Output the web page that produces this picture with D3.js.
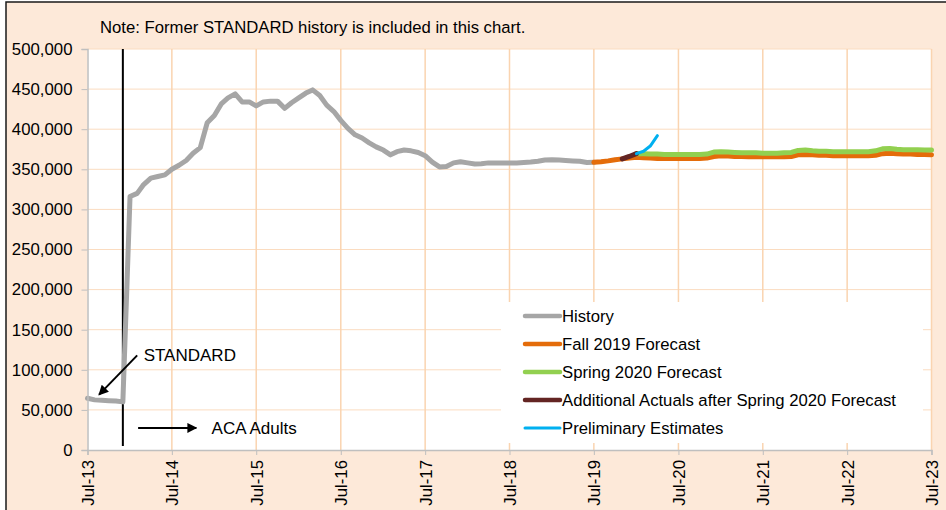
<!DOCTYPE html>
<html>
<head>
<meta charset="utf-8">
<script src="https://cdn.jsdelivr.net/npm/d3@7"></script>
<style>
  body { margin: 0; background: #fff; }
  svg text { font-family: "Liberation Sans", Arial, sans-serif; fill: #000; }
</style>
</head>
<body>
<div id="chart"></div>
<script>
// monthly values, thousands of people
const historyStart = new Date(2013, 6, 1); // Jul-13
const historyValues = [
  64.5, 62.5, 62, 61.5, 61, 60,
  316, 320, 331, 339, 341, 343,
  350, 355, 361, 370, 377, 408, 417, 432, 439, 444, 434, 434,
  429, 434, 435, 435, 426, 433, 439, 445, 449, 442, 430, 422,
  411, 401, 393, 389, 383, 378, 374, 368, 372, 374, 373, 371,
  367, 359, 353, 353.5, 358, 359.5, 358, 356.5, 357, 358, 358, 358,
  358, 358, 358.5, 359, 360, 361.5, 362, 361.5, 361, 360.5, 360, 358.5,
  358.7
];

const fallStart = new Date(2019, 6, 1); // Jul-19
const fallValues = [
  358.7, 359.5, 360.5, 362, 363, 364,
  365, 364.5, 364, 363.5, 363.5, 363.5,
  363.5, 363.5, 363.5, 363.5, 364, 366, 367, 366.5, 366, 366, 365.5, 365.5,
  365.5, 365.5, 365.5, 365.5, 366, 368, 368.5, 368, 367.5, 367.5, 367, 367,
  367, 367, 367, 367, 367.5, 369.5, 370, 369.5, 369, 369, 368.5, 368.5,
  368
];

const springStart = new Date(2020, 0, 1); // Jan-20
const springValues = [
  369.5, 369.5, 369, 369, 368.5, 368.5,
  368.5, 368.5, 368.5, 368.5, 369, 371.5, 372, 371.5, 371, 370.5, 370.5, 370.5,
  370, 370, 370, 370.5, 371, 373.5, 374, 373, 372.5, 372.5, 372, 372,
  372, 372, 372, 372, 373, 375.5, 376, 375, 374.5, 374.5, 374.5, 374,
  374
];

const actualsStart = new Date(2019, 10, 1); // Nov-19
const actualsValues = [363, 366, 369.5];

const prelimStart = new Date(2020, 0, 1); // Jan-20
const prelimValues = [369.5, 372.5, 379, 392];

const seriesNames = ["History", "Fall 2019 Forecast", "Spring 2020 Forecast",
  "Additional Actuals after Spring 2020 Forecast", "Preliminary Estimates"];
const seriesColors = ["#a6a6a6", "#e46c0a", "#92d050", "#632523", "#00b0f0"];
const seriesWidths = [5, 5, 5, 5, 3];

const yTicks = [0, 50000, 100000, 150000, 200000, 250000, 300000, 350000, 400000, 450000, 500000];
const xTickYears = [2013, 2014, 2015, 2016, 2017, 2018, 2019, 2020, 2021, 2022, 2023];

const noteText = "Note: Former STANDARD history is included in this chart.";
const dividerDate = new Date(2013, 11, 1);

const width = 946, height = 510;
const margin = { top: 49, right: 14.5, bottom: 60, left: 87.5 };

const svg = d3.select("#chart").append("svg")
  .attr("width", width)
  .attr("height", height);

// outer frame of the chart
svg.append("rect")
  .attr("x", 6).attr("y", 2)
  .attr("width", width).attr("height", height)
  .attr("fill", "#fde9d9")
  .attr("stroke", "#1a1a1a")
  .attr("stroke-width", 1.5);

const x = d3.scaleTime()
  .domain([new Date(2013, 6, 1), new Date(2023, 6, 1)])
  .range([margin.left, width - margin.right]);

const y = d3.scaleLinear()
  .domain([0, 500000])
  .range([height - margin.bottom, margin.top]);

svg.append("rect")
  .attr("x", x.range()[0]).attr("y", y(500000))
  .attr("width", x.range()[1] - x.range()[0])
  .attr("height", y(0) - y(500000))
  .attr("fill", "#fff");

// gridlines
svg.append("g").selectAll("line")
  .data(yTicks.slice(1))
  .enter().append("line")
  .attr("x1", x.range()[0]).attr("x2", x.range()[1])
  .attr("y1", d => y(d)).attr("y2", d => y(d))
  .style("stroke", "#fbdcc0")
  .style("stroke-width", "1px");

svg.append("g").selectAll("line")
  .data(xTickYears.slice(1))
  .enter().append("line")
  .attr("x1", d => x(new Date(d, 6, 1))).attr("x2", d => x(new Date(d, 6, 1)))
  .attr("y1", y(0)).attr("y2", y(500000))
  .style("stroke", "#fad4b0")
  .style("stroke-width", "1.5px");

// divider between STANDARD and ACA Adults
svg.append("line")
  .attr("x1", x(dividerDate)).attr("x2", x(dividerDate))
  .attr("y1", y(500000)).attr("y2", y(5000))
  .style("stroke", "#000")
  .style("stroke-width", "2px");

function toPoints(start, values) {
  return values.map((v, i) => ({ date: d3.timeMonth.offset(start, i), value: v * 1000 }));
}

const line = d3.line()
  .x(d => x(d.date))
  .y(d => y(d.value));

const series = [
  toPoints(historyStart, historyValues),
  toPoints(fallStart, fallValues),
  toPoints(springStart, springValues),
  toPoints(actualsStart, actualsValues),
  toPoints(prelimStart, prelimValues)
];

svg.append("g").selectAll("path")
  .data(series)
  .enter().append("path")
  .attr("d", line)
  .attr("fill", "none")
  .attr("stroke", (d, i) => seriesColors[i])
  .attr("stroke-width", (d, i) => seriesWidths[i])
  .attr("stroke-linejoin", "round")
  .attr("stroke-linecap", "round");

// axes
const yAxis = svg.append("g")
  .attr("transform", `translate(${x.range()[0]},0)`)
  .call(d3.axisLeft(y).tickValues(yTicks).tickFormat(d3.format(",")).tickSize(6).tickPadding(9));
yAxis.selectAll("text").style("font-size", "16.8px");

const xAxis = svg.append("g")
  .attr("transform", `translate(0,${y(0)})`)
  .call(d3.axisBottom(x).tickValues(xTickYears.map(yr => new Date(yr, 6, 1)))
    .tickFormat(d3.timeFormat("%b-%y")).tickSize(5).tickPadding(6));
xAxis.selectAll("text")
  .style("font-size", "16.8px")
  .attr("text-anchor", "end")
  .attr("transform", "rotate(-90)")
  .attr("x", -10).attr("y", 0).attr("dy", "0.35em");

[yAxis, xAxis].forEach(a => {
  a.select(".domain").attr("stroke", "#bfbfbf").attr("stroke-width", 1.5);
  a.selectAll(".tick line").attr("stroke", "#bfbfbf");
});

// note at top
svg.append("text")
  .attr("x", 100).attr("y", 33)
  .style("font-size", "16.7px")
  .text(noteText);

// annotations with arrows
svg.append("defs").append("marker")
  .attr("id", "arrow")
  .attr("viewBox", "0 0 10 10")
  .attr("refX", 9).attr("refY", 5)
  .attr("markerWidth", 5).attr("markerHeight", 5)
  .attr("orient", "auto")
  .append("path")
  .attr("d", "M0,0 L10,5 L0,10 z")
  .attr("fill", "#000");

const annotations = [
  { label: "STANDARD", from: [new Date(2014, 1, 1), 118000], to: [new Date(2013, 7, 20), 69000],
    textAt: [new Date(2014, 2, 1), 119000] },
  { label: "ACA Adults", from: [new Date(2014, 1, 5), 27500], to: [new Date(2014, 9, 15), 27500],
    textAt: [new Date(2014, 11, 20), 27500] }
];

annotations.forEach(a => {
  svg.append("line")
    .attr("x1", x(a.from[0])).attr("y1", y(a.from[1]))
    .attr("x2", x(a.to[0])).attr("y2", y(a.to[1]))
    .attr("stroke", "#000").attr("stroke-width", 2)
    .attr("marker-end", "url(#arrow)");
  svg.append("text")
    .attr("x", x(a.textAt[0])).attr("y", y(a.textAt[1]))
    .attr("dy", "0.35em")
    .style("font-size", "17px")
    .text(a.label);
});

// legend
const legend = svg.append("g");
legend.append("rect")
  .attr("x", 501).attr("y", 302)
  .attr("width", 422).attr("height", 141)
  .attr("fill", "#fff");

const item = legend.selectAll(".item")
  .data(seriesNames)
  .enter().append("g")
  .attr("class", "item")
  .attr("transform", (d, i) => `translate(525,${316 + i * 28})`);

item.append("line")
  .attr("x1", 0).attr("x2", 35)
  .attr("stroke", (d, i) => seriesColors[i])
  .attr("stroke-width", (d, i) => i === 4 ? 3 : 4.5)
  .attr("stroke-linecap", "round");

item.append("text")
  .attr("x", 37).attr("dy", "0.35em")
  .style("font-size", "16.7px")
  .text(d => d);
</script>
</body>
</html>
